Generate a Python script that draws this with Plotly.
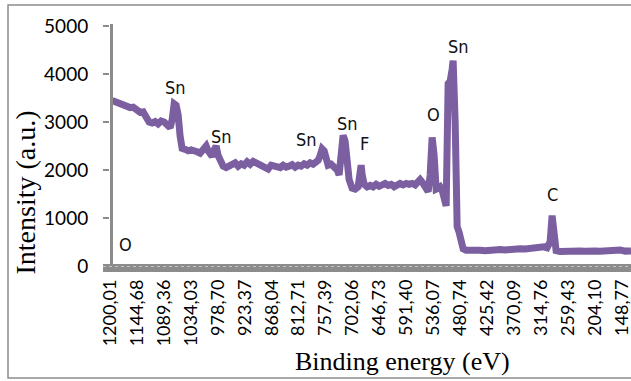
import plotly.graph_objects as go

# ---------------- data ----------------
energy_ev = [
    1195.9, 1189.7, 1183.6, 1175.3, 1167.1, 1158.9, 1152.7, 1146.6, 1138.4, 1132.2,
    1126.0, 1119.9, 1113.7, 1107.5, 1101.4, 1095.2, 1089.0, 1082.9, 1076.7, 1072.6,
    1068.5, 1064.4, 1060.3, 1056.2, 1052.1, 1045.9, 1039.7, 1033.6, 1027.4, 1021.2,
    1015.1, 1008.9, 1002.7, 998.6, 994.5, 990.4, 986.3, 982.2, 978.1, 974.0,
    967.8, 961.7, 955.5, 949.3, 943.2, 937.0, 930.8, 924.7, 918.5, 912.3,
    906.2, 900.0, 893.8, 887.7, 881.5, 875.4, 869.2, 863.0, 856.9, 850.7,
    844.5, 838.4, 832.2, 826.0, 819.9, 813.7, 807.6, 801.4, 795.2, 789.1,
    782.9, 776.7, 772.6, 768.5, 764.4, 760.3, 756.2, 752.1, 745.9, 739.7,
    733.6, 729.5, 725.4, 721.3, 717.2, 713.1, 709.0, 702.8, 696.6, 690.5,
    686.4, 684.3, 682.2, 678.1, 672.0, 665.8, 659.6, 653.5, 647.3, 641.1,
    635.0, 628.8, 622.6, 616.5, 610.3, 604.2, 598.0, 591.8, 585.7, 579.5,
    573.3, 567.2, 563.1, 559.0, 552.8, 546.6, 542.5, 538.4, 534.3, 530.2,
    526.1, 522.0, 517.9, 513.8, 509.6, 505.5, 501.4, 497.3, 495.3, 491.1,
    487.0, 482.9, 478.8, 474.7, 468.6, 460.3, 450.1, 439.8, 429.5, 419.3,
    409.0, 398.7, 388.5, 378.2, 367.9, 357.6, 347.4, 337.1, 326.8, 316.6,
    308.4, 302.2, 296.0, 291.9, 287.8, 283.7, 275.5, 265.2, 254.9, 244.7,
    234.4, 224.1, 213.9, 203.6, 193.3, 183.1, 172.8, 162.5, 152.3, 142.0,
    129.8,
]

intensity = [
    3450, 3420, 3400, 3380, 3330, 3300, 3310, 3260, 3200, 3210,
    3120, 3000, 2980, 3010, 2960, 3020, 3000, 2950, 2880, 3050,
    3380, 3350, 3150, 2700, 2450, 2430, 2400, 2420, 2380, 2380,
    2350, 2420, 2500, 2400, 2350, 2280, 2420, 2500, 2300, 2200,
    2080, 2050, 2080, 2100, 2150, 2080, 2130, 2100, 2170, 2120,
    2180, 2150, 2120, 2080, 2050, 2020, 2100, 2070, 2080, 2050,
    2100, 2060, 2080, 2110, 2060, 2100, 2080, 2130, 2100, 2150,
    2120, 2180, 2200, 2300, 2440, 2400, 2150, 2100, 2120, 2080,
    2000, 1900, 2300, 2720, 2600, 2000, 1800, 1620, 1600, 1650,
    1900, 2100, 1900, 1700, 1650, 1680, 1650, 1700, 1660, 1680,
    1720, 1680, 1700, 1650, 1700, 1720, 1690, 1720, 1700, 1720,
    1690, 1750, 1800, 1750, 1620, 1550, 1900, 2680, 2300, 1600,
    1620, 1650, 1580, 1400, 1250, 3800, 3850, 4100, 4280, 3000,
    820, 700, 500, 360, 330, 340, 320, 330, 320, 340,
    330, 345, 335, 350, 345, 360, 355, 370, 365, 380,
    400, 380, 500, 1050, 450, 320, 300, 310, 300, 320,
    310, 305, 320, 310, 305, 315, 310, 320, 335, 310,
    315,
]

x_tick_labels = [
    "1200,01", "1144,68", "1089,36", "1034,03", "978,70", "923,37", "868,04",
    "812,71", "757,39", "702,06", "646,73", "591,40", "536,07", "480,74",
    "425,42", "370,09", "314,76", "259,43", "204,10", "148,77",
]
y_tick_values = [0, 1000, 2000, 3000, 4000, 5000]

peak_labels = ["Sn", "Sn", "Sn", "Sn", "F", "O", "Sn", "C", "O"]

assert len(energy_ev) == len(intensity)

# ---------------- layout geometry ----------------
W, H = 631, 381
L, R, T, B = 110, 0, 26, 115
PW, PH = W - L - R, H - T - B


def px_x(px):
    return (px - L) / PW


def px_y(py):
    return (H - B - py) / PH


label_px = [(175, 87), (221, 136), (306, 139), (347.5, 123.5), (364.5, 143.5),
            (433.5, 114), (458.5, 46), (552, 194), (125.5, 244.5)]

AXIS_GRAY = "#8c8c8c"
LINE_COLOR = "#7b5fa1"
TICK_FONT = "Lato, 'Open Sans', sans-serif"
NARROW_FONT = "'Liberation Sans Narrow', 'DejaVu Sans Condensed', sans-serif"
SERIF_FONT = "'Liberation Serif', 'Times New Roman', serif"

fig = go.Figure()
fig.add_trace(go.Scatter(
    x=energy_ev, y=intensity, mode="lines",
    line=dict(color=LINE_COLOR, width=7),
    hoverinfo="skip", showlegend=False,
))

tick_vals = [float(s.replace(",", ".")) for s in x_tick_labels]

annotations = []
for text, (ax_, ay_) in zip(peak_labels, label_px):
    annotations.append(dict(
        text=text, x=px_x(ax_), y=px_y(ay_), xref="paper", yref="paper",
        xanchor="center", yanchor="middle", showarrow=False,
        font=dict(family=NARROW_FONT, size=18, color="#111111"),
    ))
annotations.append(dict(
    text="Binding energy (eV)", x=px_x(402), y=px_y(361), xref="paper", yref="paper",
    xanchor="center", yanchor="middle", showarrow=False,
    font=dict(family=SERIF_FONT, size=26, color="black"),
))
annotations.append(dict(
    text="Intensity (a.u.)", x=px_x(24.5), y=px_y(193), xref="paper", yref="paper",
    xanchor="center", yanchor="middle", showarrow=False, textangle=-90,
    font=dict(family=SERIF_FONT, size=28, color="black"),
))

shapes = [
    # outer chart border
    dict(type="rect", xref="paper", yref="paper",
         x0=px_x(8), x1=px_x(645), y0=px_y(378), y1=px_y(5),
         line=dict(color=AXIS_GRAY, width=1.5), fillcolor="rgba(0,0,0,0)", layer="below"),
    # thick horizontal axis band
    dict(type="rect", xref="paper", yref="paper",
         x0=px_x(103), x1=px_x(645), y0=px_y(272), y1=px_y(264),
         line=dict(width=0), fillcolor=AXIS_GRAY, layer="above"),
    dict(type="line", xref="paper", yref="paper",
         x0=px_x(103), x1=px_x(645), y0=px_y(266.5), y1=px_y(266.5),
         line=dict(color="#c4c4c4", width=1, dash="dot"), layer="above"),
    # vertical axis line
    dict(type="line", xref="paper", yref="paper",
         x0=px_x(111.5), x1=px_x(111.5), y0=px_y(266), y1=px_y(24),
         line=dict(color=AXIS_GRAY, width=3), layer="above"),
]

fig.update_layout(
    width=W, height=H,
    margin=dict(l=L, r=R, t=T, b=B, pad=0),
    paper_bgcolor="white", plot_bgcolor="white",
    showlegend=False,
    annotations=annotations,
    shapes=shapes,
    xaxis=dict(
        range=[1200.3, 129.8], autorange=False,
        tickmode="array", tickvals=tick_vals, ticktext=x_tick_labels,
        tickangle=-90, ticks="", showline=False, showgrid=False, zeroline=False,
        ticklabelstandoff=9, ticklabeloverflow="allow",
        tickfont=dict(family=TICK_FONT, size=18, color="black"),
    ),
    yaxis=dict(
        range=[0, 5000], autorange=False,
        tickmode="array", tickvals=y_tick_values,
        ticktext=[str(v) for v in y_tick_values],
        ticks="outside", ticklen=6, tickwidth=2, tickcolor=AXIS_GRAY,
        showline=False, showgrid=False, zeroline=False,
        ticklabelstandoff=11,
        tickfont=dict(family=TICK_FONT, size=19, color="black"),
    ),
)

fig.write_html("out.html")
